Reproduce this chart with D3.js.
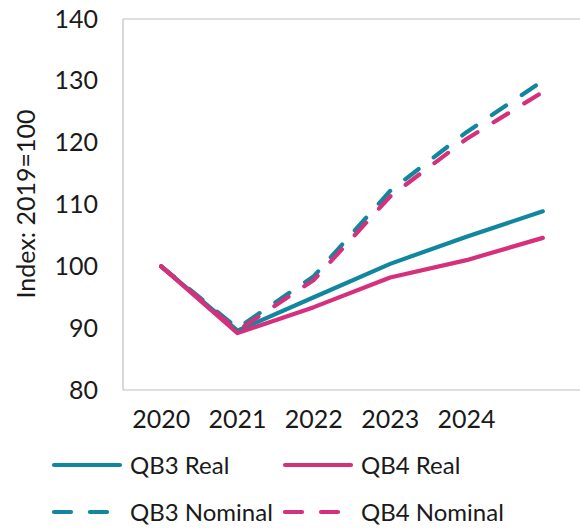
<!DOCTYPE html>
<html>
<head>
<meta charset="utf-8">
<script src="https://cdn.jsdelivr.net/npm/d3@7/dist/d3.min.js"></script>
<style>
  html, body { margin: 0; padding: 0; background: #fff; }
  svg { display: block; }
  text { font-family: Lato, "Noto Sans", sans-serif; fill: #1a1a1a; }
</style>
</head>
<body>
<svg id="chart" width="580" height="528"></svg>
<script>
// Periods on the x axis (one more point than labelled ticks)
const periods = ["p0", "p1", "p2", "p3", "p4", "p5"];
const periodLabels = ["2020", "2021", "2022", "2023", "2024", ""];

// Index values, 2019 = 100
const qb3Real    = [100, 89.6, 95.0, 100.4, 104.8, 108.9];
const qb4Real    = [100, 89.2, 93.4,  98.2, 101.0, 104.6];
const qb3Nominal = [100, 90.0, 98.4, 112.2, 121.7, 130.0];
const qb4Nominal = [100, 89.6, 97.8, 111.3, 120.6, 128.2];

const yTicks = [80, 90, 100, 110, 120, 130, 140];

const seriesNames = ["QB3 Real", "QB4 Real", "QB3 Nominal", "QB4 Nominal"];
const seriesValues = [qb3Real, qb4Real, qb3Nominal, qb4Nominal];

const teal = "#10879f";
const pink = "#d5307b";
const styles = {
  "QB3 Real":    { color: teal, dash: null },
  "QB4 Real":    { color: pink, dash: null },
  "QB3 Nominal": { color: teal, dash: "17,19" },
  "QB4 Nominal": { color: pink, dash: "17,19" }
};

const svg = d3.select("#chart");
const plot = { left: 123, right: 581, top: 19, bottom: 390 };

const x = d3.scaleBand().domain(periods).range([plot.left, plot.right]);
const y = d3.scaleLinear().domain([80, 140]).range([plot.bottom, plot.top]);
const cx = p => x(p) + x.bandwidth() / 2;

// Frame: left, top and bottom edges
const frame = svg.append("g").attr("stroke", "#bfbfbf").attr("stroke-width", 1.2).attr("fill", "none");
frame.append("line").attr("x1", plot.left).attr("x2", plot.left).attr("y1", plot.top).attr("y2", plot.bottom);
frame.append("line").attr("x1", plot.left).attr("x2", plot.right).attr("y1", plot.top).attr("y2", plot.top);
frame.append("line").attr("x1", plot.left).attr("x2", plot.right).attr("y1", plot.bottom).attr("y2", plot.bottom);

// Y axis labels
const yAxis = d3.axisLeft(y).tickValues(yTicks).tickSize(0).tickPadding(25).tickFormat(d3.format("d"));
const yg = svg.append("g").attr("transform", `translate(${plot.left},0)`).call(yAxis);
yg.select(".domain").remove();
yg.selectAll("text").style("font-family", "Lato, sans-serif").style("font-size", "25px").attr("fill", "#1a1a1a");

// X axis labels
const xAxis = d3.axisBottom(x).tickSize(0).tickPadding(20).tickFormat((d, i) => periodLabels[i]);
const xg = svg.append("g").attr("transform", `translate(0,${plot.bottom})`).call(xAxis);
xg.select(".domain").remove();
xg.selectAll("text").style("font-family", "Lato, sans-serif").style("font-size", "25px").attr("fill", "#1a1a1a");

// Y axis title
svg.append("text")
  .attr("transform", "translate(35,204) rotate(-90)")
  .attr("text-anchor", "middle")
  .style("font-size", "25px")
  .text("Index: 2019=100");

// Series lines
const line = d3.line().x((d, i) => cx(periods[i])).y(d => y(d));
const drawOrder = ["QB3 Nominal", "QB3 Real", "QB4 Nominal", "QB4 Real"];
drawOrder.forEach(name => {
  const vals = seriesValues[seriesNames.indexOf(name)];
  const s = styles[name];
  svg.append("path")
    .datum(vals)
    .attr("d", line)
    .attr("fill", "none")
    .attr("stroke", s.color)
    .attr("stroke-width", 4.2)
    .attr("stroke-linecap", "round")
    .attr("stroke-linejoin", "round")
    .attr("stroke-dasharray", s.dash);
});

// Legend: two rows, two columns
const legendPos = [
  { name: "QB3 Real",    x: 52,  y: 465 },
  { name: "QB4 Real",    x: 283, y: 465 },
  { name: "QB3 Nominal", x: 52,  y: 512 },
  { name: "QB4 Nominal", x: 283, y: 512 }
];
legendPos.forEach(p => {
  const s = styles[p.name];
  const g = svg.append("g");
  g.append("line")
    .attr("x1", p.x + 2).attr("x2", p.x + 68)
    .attr("y1", p.y).attr("y2", p.y)
    .attr("stroke", s.color).attr("stroke-width", 4.2)
    .attr("stroke-linecap", "round")
    .attr("stroke-dasharray", s.dash);
  g.append("text")
    .attr("x", p.x + 78).attr("y", p.y)
    .attr("dy", "0.36em")
    .style("font-size", "24px")
    .text(p.name);
});
</script>
</body>
</html>
